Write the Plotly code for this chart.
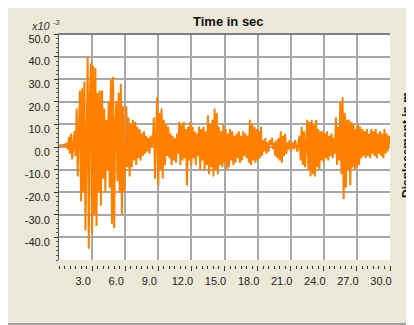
import plotly.graph_objects as go

# Displacement (x1e-3 m) sampled every 0.1 s from 0.0 to 30.0 s
disp = [
    0.6, 0.8, 0.7, 0.9, 0.8, 1.0, 0.5, 1.8, -1.2, 4.5,
    -3.0, 6.0, -5.5, 2.0, 7.0, -4.0, 17.0, -13.0, 12.0, 25.0,
    -24.0, 26.0, -20.0, 29.0, -37.0, 18.0, 40.0, -45.0, 22.0, 37.0,
    -38.0, 36.0, -30.0, 35.0, -35.0, 24.0, -20.0, 25.0, -26.0, 25.0,
    -14.0, 17.0, -20.0, 12.0, -10.0, 20.0, -18.0, 30.0, -34.0, 31.0,
    -36.0, 10.0, 20.0, -15.0, 24.0, -20.0, 28.0, -30.0, 18.0, -20.0,
    -10.0, 18.0, -9.0, 13.0, -13.0, 10.0, -9.0, 12.0, -6.0, 11.0,
    -8.0, 9.0, -5.0, 8.0, -6.0, 6.0, -4.0, 7.0, -3.0, 5.0,
    -2.0, 4.0, -3.0, 5.0, 0.0, 3.0, 13.0, -14.0, 10.0, 22.0,
    -17.0, 15.0, -10.0, 17.0, -14.0, 12.0, -8.0, 10.0, -4.0, 9.0,
    -5.0, 6.0, -8.0, 5.0, -6.0, 4.0, -7.0, 6.0, -3.0, 11.0,
    -8.0, 10.0, -6.0, 11.0, -5.0, 8.0, -17.0, 9.0, -6.0, 11.0,
    -8.0, 9.0, -5.0, 7.0, -8.0, 6.0, -4.0, 9.0, -10.0, 8.0,
    -6.0, 9.0, -10.0, 7.0, -8.0, 14.0, -12.0, 10.0, -9.0, 12.0,
    -13.0, 17.0, -10.0, 15.0, -12.0, 9.0, -8.0, 7.0, -9.0, 10.0,
    -7.0, 8.0, -10.0, 6.0, -9.0, 8.0, -6.0, 7.0, -8.0, 5.0,
    -7.0, 6.0, -5.0, 7.0, -7.0, 5.0, -6.0, 7.0, -4.0, 6.0,
    -5.0, 5.0, -7.0, 12.0, -8.0, 10.0, -6.0, 9.0, -7.0, 8.0,
    -6.0, 7.0, -5.0, 9.0, -4.0, 3.0, -2.0, 4.0, -3.0, 2.0,
    -2.0, 3.0, 1.0, 4.0, -1.0, 2.0, -4.0, 3.0, -5.0, 4.0,
    -6.0, 7.0, -7.0, 5.0, -4.0, 6.0, -3.0, 2.0, -1.0, 3.0,
    -2.0, 1.0, 2.0, -1.0, 3.0, 0.5, -2.0, 2.0, 5.0, -6.0,
    9.0, -8.0, 7.0, -9.0, 5.0, 12.0, -10.0, 11.0, -13.0, 12.0,
    -12.0, 10.0, -13.0, 12.0, -9.0, 8.0, -10.0, 7.0, -6.0, 7.0,
    -7.0, 6.0, -5.0, 7.0, -6.0, 5.0, -4.0, 6.0, -5.0, 4.0,
    -3.0, 13.0, -8.0, 9.0, -6.0, 20.0, -12.0, 22.0, -23.0, 15.0,
    -18.0, 12.0, -10.0, 12.0, -17.0, 11.0, -9.0, 10.0, -10.0, 8.0,
    -9.0, 10.0, -8.0, 9.0, -5.0, 8.0, -4.0, 7.0, -5.0, 8.0,
    -4.0, 6.0, -5.0, 8.0, -3.0, 7.0, -4.0, 8.0, -5.0, 6.0,
    -3.0, 7.0, -4.0, 6.0, -5.0, 8.0, -3.0, 6.0, -2.0, 5.0,
    1.0,
]
time = [round(i * 0.1, 1) for i in range(len(disp))]

x_ticks = [3, 6, 9, 12, 15, 18, 21, 24, 27, 30]
x_labels = ["3.0", "6.0", "9.0", "12.0", "15.0", "18.0", "21.0", "24.0", "27.0", "30.0"]
y_ticks = [-40, -30, -20, -10, 0, 10, 20, 30, 40, 50]
y_labels = ["-40.0", "-30.0", "-20.0", "-10.0", "0.0", "10.0", "20.0", "30.0", "40.0", "50.0"]

# The page places the figure 8 px from the top-left corner (body margin),
# so the figure is sized/positioned in page pixels minus that offset.
OFF = 8
W, H = 414 - OFF, 325 - OFF
L, R, T, B = 59 - OFF, 24, 34 - OFF, 60
PW, PH = W - L - R, H - T - B


def px(x):
    return (x - OFF - L) / PW


def py(y):
    return (H - B - (y - OFF)) / PH


BEIGE = "#ECE9D8"
FONT = "Liberation Sans, Arial, sans-serif"

fig = go.Figure()
fig.add_trace(go.Scatter(x=time, y=disp, mode="lines",
                         line=dict(color="#FF8000", width=2), hoverinfo="skip"))

fig.update_layout(
    width=W, height=H,
    margin=dict(l=L, r=R, t=T, b=B, pad=0),
    paper_bgcolor=BEIGE, plot_bgcolor="white",
    showlegend=False,
    font=dict(family=FONT, size=11, color="#222222"),
    xaxis=dict(
        range=[0, 30], anchor="free", position=0,
        tickmode="array", tickvals=x_ticks, ticktext=x_labels,
        ticks="outside", ticklen=5, tickwidth=1, tickcolor="#333333",
        ticklabelshift=-9, ticklabelstandoff=1,
        showgrid=True, gridcolor="#A8A8A8", gridwidth=2,
        showline=False, zeroline=False,
        minor=dict(dtick=0.5, tick0=0, ticks="outside", ticklen=3,
                   tickcolor="#333333", showgrid=False),
        tickfont=dict(family=FONT, size=11, color="#222222"),
    ),
    yaxis=dict(
        range=[-50, 50], domain=[py(260), 1],
        tickmode="array", tickvals=y_ticks, ticktext=y_labels,
        ticks="outside", ticklen=4, tickwidth=1, tickcolor="#333333",
        ticklabelshift=5, ticklabelstandoff=2,
        showgrid=True, gridcolor="#A8A8A8", gridwidth=2,
        showline=True, linecolor="#555555", linewidth=1,
        zeroline=False,
        minor=dict(dtick=2, tick0=0, ticks="outside", ticklen=2,
                   tickcolor="#555555", showgrid=False),
        tickfont=dict(family=FONT, size=11, color="#222222"),
    ),
    shapes=[
        dict(type="rect", xref="paper", yref="paper", x0=px(OFF), x1=px(414), y0=py(323), y1=py(325),
             fillcolor="#A0A0A0", line=dict(width=0), layer="below"),
        dict(type="line", xref="paper", yref="paper", x0=px(58), x1=px(390), y0=1, y1=1,
             line=dict(color="#808080", width=2)),
    ],
    annotations=[
        dict(text="<b>Time in sec</b>", xref="paper", yref="paper",
             x=px(228.5), y=py(21), xanchor="center", yanchor="middle", showarrow=False,
             font=dict(family=FONT, size=13, color="#111111")),
        dict(text="<i>x10</i> <i><sup>-3</sup></i>", xref="paper", yref="paper",
             x=px(29), y=py(25), xanchor="left", yanchor="middle", showarrow=False,
             font=dict(family=FONT, size=11, color="#333333")),
        dict(text="<b>Displacement in m</b>", xref="paper", yref="paper",
             x=px(407), y=py(145), xanchor="center", yanchor="middle", showarrow=False,
             textangle=-90, font=dict(family=FONT, size=12, color="#111111")),
    ],
)

fig.write_html("out.html")
